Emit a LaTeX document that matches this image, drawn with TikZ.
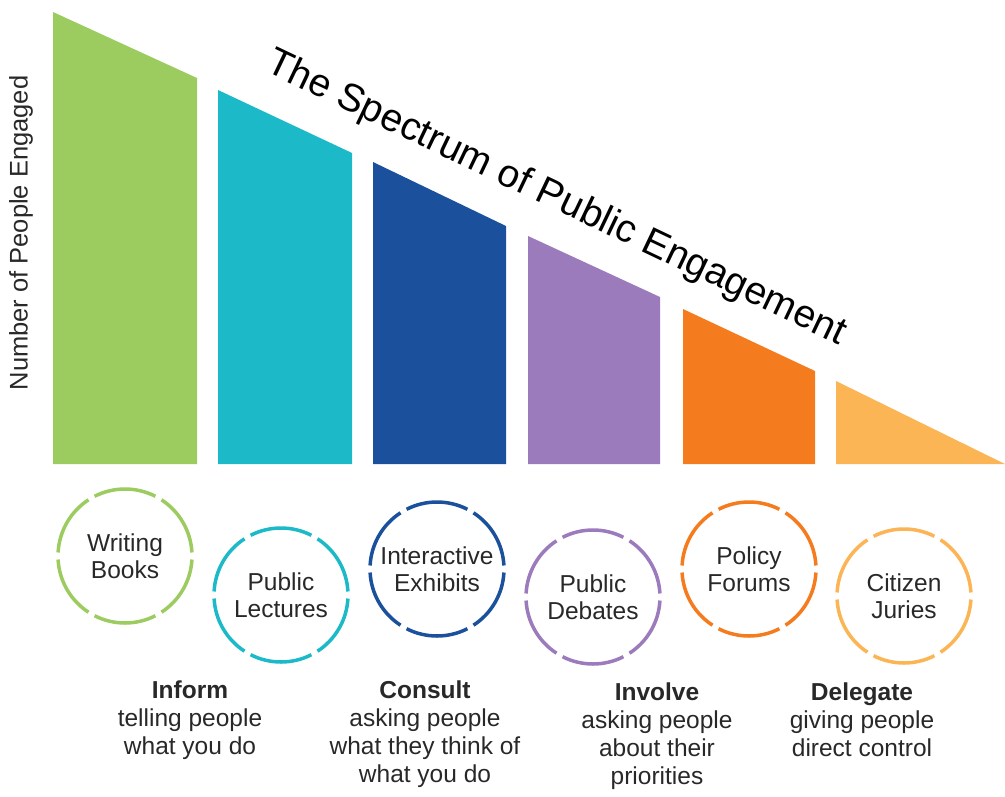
\documentclass[tikz,border=0pt]{standalone}
\usepackage{fontspec}
\setmainfont{Liberation Sans}
\usetikzlibrary{calc}
\definecolor{barGreen}{RGB}{156,203,96}
\definecolor{barTeal}{RGB}{28,186,200}
\definecolor{barBlue}{RGB}{27,80,156}
\definecolor{barPurple}{RGB}{155,123,187}
\definecolor{barOrange}{RGB}{244,124,30}
\definecolor{barLight}{RGB}{251,181,85}
\definecolor{inkGray}{RGB}{40,40,40}
% ring of six arcs with small gaps round a named node
\def\gapring[#1](#2){\foreach \a in {0,60,...,300}{\draw[#1] ($(#2)+(\a+3:67)$) arc[start angle=\a+3, end angle=\a+57, radius=67];}}

\begin{document}
\begin{tikzpicture}[x=1pt, y=-1pt,
	ringtext/.style={align=center, text=inkGray, font=\fontsize{24.5}{27}\selectfont},
	ringline/.style={line width=3.5pt},
	modetext/.style={align=center, text=inkGray, font=\fontsize{24.5}{28}\selectfont}]
		%%%%% START %%%%%
		\useasboundingbox (0, 0) rectangle (1005, 796);
		
		\fill[barGreen] (53, 464) -- (53, 12) -- (197, 78) -- (197, 464) -- cycle;
		\fill[barTeal] (218, 464) -- (218, 90) -- (352, 153) -- (352, 464) -- cycle;
		\fill[barBlue] (373, 464) -- (373, 162) -- (506, 226) -- (506, 464) -- cycle;
		\fill[barPurple] (528, 464) -- (528, 236) -- (660, 297) -- (660, 464) -- cycle;
		\fill[barOrange] (683, 464) -- (683, 309) -- (815, 371) -- (815, 464) -- cycle;
		\fill[barLight] (836, 464) -- (836, 381) -- (1005, 464) -- cycle;
		
		\node[rotate=-25.5, text=black, font=\fontsize{39}{42}\selectfont] (title) at (556, 199) {The Spectrum of Public Engagement};
		\node[rotate=90, text=inkGray, font=\fontsize{25.5}{28}\selectfont] (ylabel) at (21, 233) {Number of People Engaged};
		
		\node[ringtext] (books) at (125, 556) {Writing\\Books};
		\gapring[ringline, barGreen](books)
		\node[ringtext] (lectures) at (281, 595) {Public\\Lectures};
		\gapring[ringline, barTeal](lectures)
		\node[ringtext] (exhibits) at (437, 569) {Interactive\\Exhibits};
		\gapring[ringline, barBlue](exhibits)
		\node[ringtext] (debates) at (593, 597) {Public\\Debates};
		\gapring[ringline, barPurple](debates)
		\node[ringtext] (forums) at (749, 569) {Policy\\Forums};
		\gapring[ringline, barOrange](forums)
		\node[ringtext] (juries) at (904, 596) {Citizen\\Juries};
		\gapring[ringline, barLight](juries)
		
		\node[modetext] (inform) at (190, 720) {\textbf{Inform}\\telling people\\what you do};
		\node[modetext] (consult) at (425, 734) {\textbf{Consult}\\asking people\\what they think of\\what you do};
		\node[modetext] (involve) at (657, 736) {\textbf{Involve}\\asking people\\about their\\priorities};
		\node[modetext] (delegate) at (862, 720) {\textbf{Delegate}\\giving people\\direct control};
		%%%%% END %%%%%
\end{tikzpicture}
\end{document}
